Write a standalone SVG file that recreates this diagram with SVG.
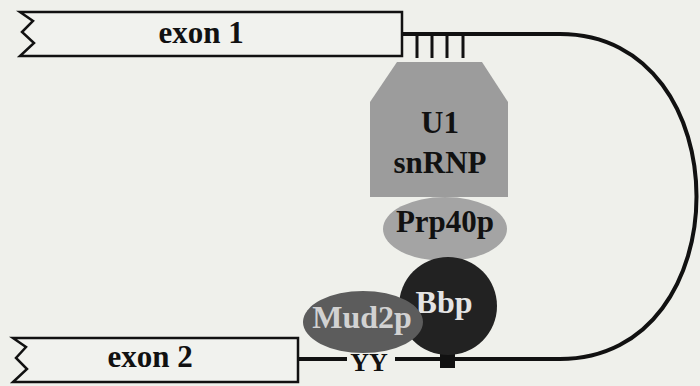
<svg xmlns="http://www.w3.org/2000/svg" width="700" height="386" viewBox="0 0 700 386">
<style>
.bg{fill:#eff0eb}
.exon{fill:#f1f2ee;stroke:#111;stroke-width:2.5;stroke-linejoin:miter}
.wire{fill:none;stroke:#111;stroke-width:4}
.lbl{font-family:"Liberation Serif","Times New Roman",serif;font-weight:bold;text-anchor:middle;fill:#111}
.lbl.light{fill:#e4e4e4}
.lbl.pale{fill:#d2d2d2}
</style>
<rect class="bg" x="0" y="0" width="700" height="386"/>
<g id="connectors">
<path class="wire" d="M402,34 H560 C742,34 742,359 560,359 H395"/>
<path class="wire" d="M298,359 H347"/>
<g stroke="#111" stroke-width="3">
<line x1="417" y1="34" x2="417" y2="58"/>
<line x1="432" y1="34" x2="432" y2="58"/>
<line x1="447" y1="34" x2="447" y2="58"/>
<line x1="463" y1="34" x2="463" y2="58"/>
</g>
<rect x="440" y="350" width="15" height="18" fill="#111"/>
</g>
<g id="exon1">
<path class="exon" d="M20,12 H402 V56 H20 L34,43 L22,32 L33,21 Z"/>
<text class="lbl" x="201" y="43" font-size="31">exon 1</text>
</g>
<g id="exon2">
<path class="exon" d="M13,338 H298 V382 H13 L27,369 L16,358 L26,347 Z"/>
<text class="lbl" x="150" y="367" font-size="31">exon 2</text>
</g>
<g id="yy">
<text class="lbl" x="369" y="371" font-size="26">YY</text>
</g>
<g id="prp40p">
<ellipse cx="445" cy="229" rx="62" ry="32" fill="#a4a4a4"/>
<text class="lbl" x="445" y="232" font-size="31">Prp40p</text>
</g>
<g id="u1snrnp">
<polygon points="397,62 482,62 508,102 508,197 370,197 370,102" fill="#9c9c9c"/>
<text class="lbl" x="440" y="133" font-size="31">U1</text>
<text class="lbl" x="440" y="173" font-size="31">snRNP</text>
</g>
<g id="bbp">
<circle cx="448" cy="306" r="49" fill="#222"/>
<text class="lbl light" x="444" y="313" font-size="32">Bbp</text>
</g>
<g id="mud2p">
<ellipse cx="363" cy="322" rx="60" ry="31" fill="#5c5c5c"/>
<text class="lbl pale" x="362" y="328" font-size="32">Mud2p</text>
</g>
</svg>
